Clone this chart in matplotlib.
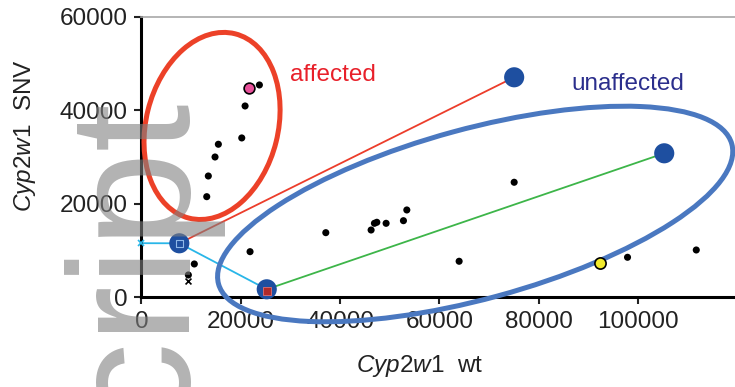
import numpy as np
import matplotlib
matplotlib.use("Agg")
import matplotlib.pyplot as plt
from matplotlib.patches import Ellipse
from matplotlib.transforms import ScaledTranslation

plt.rcParams['font.family'] = ['Liberation Sans', 'DejaVu Sans']
plt.rcParams['mathtext.fontset'] = 'custom'
plt.rcParams['mathtext.rm'] = 'Liberation Sans'
plt.rcParams['mathtext.it'] = 'Liberation Sans:italic'

# black samples (wt, SNV)
wt_black = [23750, 20870, 20200, 15490, 14820, 13470, 13150,
            21870, 10650, 9450,
            37120, 46240, 46910, 47390, 49260, 52750, 53430,
            75040, 63960, 97860, 111700]
snv_black = [45410, 40920, 34090, 32740, 30020, 25960, 21540,
             9790, 7160, 4810,
             13850, 14420, 15850, 16070, 15850, 16410, 18700,
             24620, 7740, 8590, 10150]

# highlighted samples
pink_pt = (21610, 44700)
yellow_pt = (92220, 7440)
cross_pt = (9450, 3530)

# connected big blue samples
blue_a = (7630, 11580)
blue_b = (25230, 1750)
blue_c = (75040, 47050)
blue_d = (105250, 30810)
axis_pt = (0, 11600)

xticks = [0, 20000, 40000, 60000, 80000, 100000]
yticks = [0, 20000, 40000, 60000]

fig = plt.figure(figsize=(7.35, 3.87), dpi=100)
ax = fig.add_axes([0.1924, 0.2313, 0.811, 0.7256])
ax.set_xlim(0, 120000)
ax.set_ylim(0, 60000)

for s in ['left', 'bottom']:
    ax.spines[s].set_linewidth(2.2)
    ax.spines[s].set_color('black')
ax.spines['top'].set_color('#a8a8a8')
ax.spines['top'].set_linewidth(1.2)
ax.spines['right'].set_visible(False)

ax.set_xticks(xticks)
ax.set_yticks(yticks)
ax.tick_params(axis='both', direction='out', length=5, width=1.5,
               labelsize=17.5, colors='#222222', pad=5)

# connecting lines
ax.plot([axis_pt[0], blue_a[0], blue_b[0]], [axis_pt[1], blue_a[1], blue_b[1]],
        color='#29b6e8', lw=1.3, zorder=2, clip_on=False)
ax.plot(axis_pt[0], axis_pt[1], marker='x', color='#29b6e8', ms=5, mew=1.2,
        clip_on=False, zorder=3)
ax.plot([blue_a[0], blue_c[0]], [blue_a[1], blue_c[1]], color='#ec3d2b', lw=1.3, zorder=2)
ax.plot([blue_b[0], blue_d[0]], [blue_b[1], blue_d[1]], color='#3db549', lw=1.3, zorder=2)

bx = [blue_a[0], blue_b[0], blue_c[0], blue_d[0]]
by = [blue_a[1], blue_b[1], blue_c[1], blue_d[1]]
ax.scatter(bx, by, s=210, color='#1e4fa0', edgecolors='none', zorder=4, clip_on=False)
ax.scatter([blue_a[0]], [blue_a[1]], s=22, marker='s', facecolors='none',
           edgecolors='#8fb8e8', lw=0.8, zorder=5)
ax.scatter([blue_b[0]], [blue_b[1] - 400], s=30, marker='s', color='#b02a2a',
           edgecolors='#e07070', lw=0.6, zorder=5, clip_on=False)

ax.scatter(wt_black, snv_black, s=26, color='black', edgecolors='none', zorder=4)
ax.scatter([cross_pt[0]], [cross_pt[1]], s=18, marker='x', color='black', lw=1.2, zorder=4)
ax.scatter([pink_pt[0]], [pink_pt[1]], s=60, color='#e8509a', edgecolors='black',
           lw=1.2, zorder=5)
ax.scatter([yellow_pt[0]], [yellow_pt[1]], s=65, color='#f2ea2c', edgecolors='black',
           lw=1.2, zorder=5)

# group outlines, sized in inches around a data-space centre
def outline(cx, cy, w, h, angle, color):
    tr = fig.dpi_scale_trans + ScaledTranslation(cx, cy, ax.transData)
    e = Ellipse((0, 0), w, h, angle=angle, transform=tr, fill=False,
                edgecolor=color, lw=3.6, clip_on=False, zorder=3)
    ax.add_patch(e)

outline(14220, 36650, 1.32, 1.90, -14, '#ec4128')
outline(67190, 17840, 5.32, 1.70, 15.25, '#4a78c0')

ax.text(29900, 47600, 'affected', color='#e8202a', fontsize=17.5, ha='left', va='center')
ax.text(86500, 45700, 'unaffected', color='#2b2e8c', fontsize=17.5, ha='left', va='center')

fig.text(420 / 735, 1 - 366 / 387, r'$\mathit{Cyp2w1}$  wt', fontsize=17.5,
         color='#222222', ha='center', va='center')
fig.text(25 / 735, 1 - 136 / 387, r'$\mathit{Cyp2w1}$  SNV', fontsize=17.5,
         color='#222222', ha='center', va='center', rotation=90)

# faint watermark from the source page
fig.text(183 / 735, 1 - 95 / 387, 'cript', fontsize=124, color='gray', alpha=0.6,
         rotation=90, rotation_mode='anchor', ha='right', va='baseline', zorder=10)

fig.savefig('out.png', dpi=100)
